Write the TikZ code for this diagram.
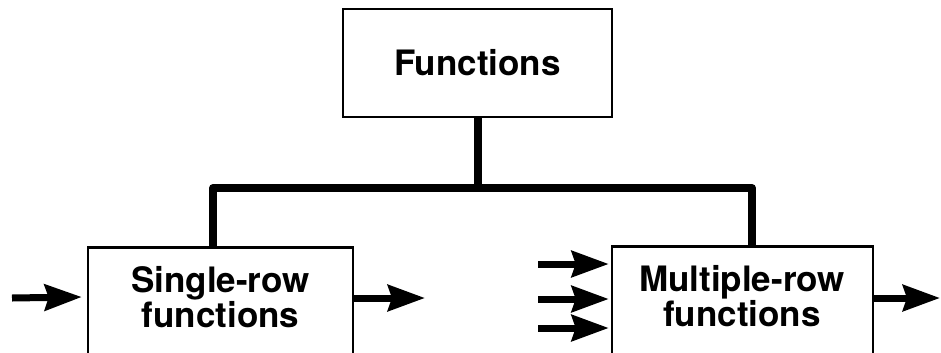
\documentclass[tikz,border=0pt]{standalone}
\usepackage{fontspec}
\setmainfont{TeX Gyre Heros}
\usetikzlibrary{arrows.meta,calc}
\tikzset{
  boxnode/.style={draw=black, line width=2.5bp, rectangle, inner sep=0pt},
  lbl/.style={font=\fontsize{35bp}{35bp}\selectfont\bfseries, align=center, inner sep=0pt},
  bar/.style={line width=8bp, line join=round},
  arr/.style={line width=7bp, -{Stealth[length=37bp,width=26bp,inset=4bp]}},
}
\begin{document}
\begin{tikzpicture}[x=1bp,y=-1bp]
\useasboundingbox (0,0) rectangle (941,352);
% boxes
\node[boxnode, minimum width=269bp, minimum height=108bp] (fn) at (477.5,63) {};
\node[lbl] (fnt) at (fn.center) {Functions};
\node[boxnode, minimum width=265bp, minimum height=160bp, anchor=north] (sr) at (220.5,246) {};
\node[lbl] (srt) at (220.5,297) {Single-row\\functions};
\node[boxnode, minimum width=261bp, minimum height=160bp, anchor=north] (mr) at (742.5,245) {};
\node[lbl] (mrt) at (742,296) {Multiple-row\\functions};
% tree connectors
\coordinate (j) at (477.5,188);
\draw[bar] (fn.south) -- (j);
\draw[bar] ($(sr.north)+(-7.5,0)$) |- (j) -| ($(mr.north)+(9.5,0)$);
% arrows
\coordinate (a0) at (12,298);
\draw[arr] (a0) -- ($(sr.west |- srt)+(-5,0)$);
\coordinate (a1) at (425,298);
\draw[arr] (sr.east |- a1) -- (a1);
\coordinate (b1) at (538,264);
\coordinate (b2) at (538,299);
\coordinate (b3) at (538,328);
\draw[arr] (b1) -- ($(mr.west |- b1)+(-2,0)$);
\draw[arr] (b2) -- ($(mr.west |- b2)+(-2,0)$);
\draw[arr] (b3) -- ($(mr.west |- b3)+(-2,0)$);
\coordinate (c1) at (940,298);
\draw[arr] (mr.east |- c1) -- (c1);
\end{tikzpicture}
\end{document}
